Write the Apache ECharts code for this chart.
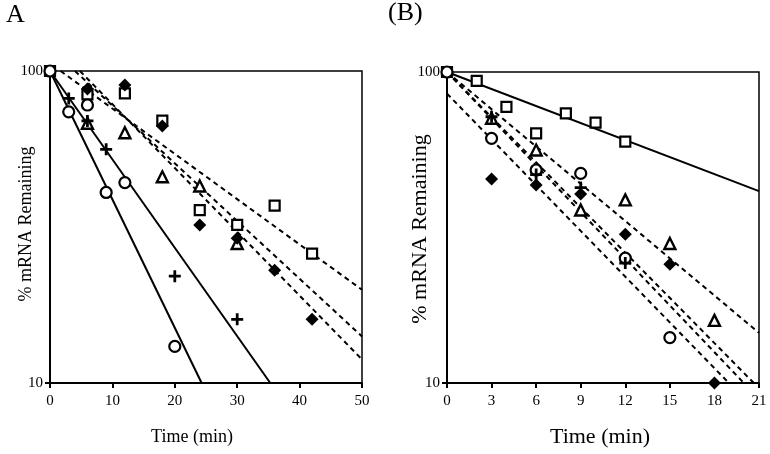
<!DOCTYPE html>
<html>
<head>
<meta charset="utf-8">
<script src="https://cdn.jsdelivr.net/npm/echarts@6/dist/echarts.min.js"></script>
<style>html,body{margin:0;padding:0;background:#fff}#c{width:770px;height:454px}</style>
</head>
<body>
<div id="c"></div>
<script>
// ---------- Panel A data ----------
var ticksAx = [0, 10, 20, 30, 40, 50];
var A_circle_t = [0, 3, 6, 9, 12, 20];
var A_circle_v = [100, 74.0, 77.8, 40.8, 43.9, 13.1];
var A_plus_t = [3, 6, 9, 20, 30];
var A_plus_v = [81.7, 69.2, 56.1, 22.0, 16.0];
var A_square_t = [0, 6, 12, 18, 24, 30, 36, 42];
var A_square_v = [100, 84.1, 84.8, 69.3, 35.8, 32.1, 37.0, 26.0];
var A_diamond_t = [6, 12, 18, 24, 30, 36, 42];
var A_diamond_v = [87.5, 90.2, 66.6, 32.1, 29.1, 23.0, 16.0];
var A_triangle_t = [6, 12, 18, 24, 30];
var A_triangle_v = [68.0, 63.4, 45.8, 42.8, 28.0];
// fitted lines (start / end points, data units)
var A_fit_circle = [[0, 100], [24.3, 10]];
var A_fit_plus = [[0, 100], [35.3, 10]];
var A_fit_square = [[1.7, 100], [50, 19.9]];
var A_fit_triangle = [[4.0, 100], [50, 14.1]];
var A_fit_diamond = [[4.8, 100], [50, 11.9]];

// ---------- Panel B data ----------
var ticksBx = [0, 3, 6, 9, 12, 15, 18, 21];
var B_square_t = [0, 2, 4, 6, 8, 10, 12];
var B_square_v = [100, 93.7, 77.3, 63.5, 73.6, 68.7, 59.7];
var B_triangle_t = [3, 6, 9, 12, 15, 18];
var B_triangle_v = [71.0, 56.1, 36.0, 38.8, 28.1, 15.9];
var B_circle_t = [0, 3, 6, 9, 12, 15];
var B_circle_v = [100, 61.2, 48.4, 47.2, 25.2, 14.0];
var B_diamond_t = [3, 6, 9, 12, 15, 18];
var B_diamond_v = [45.3, 43.3, 40.5, 30.1, 24.1, 10.0];
var B_plus_t = [3, 6, 9, 12];
var B_plus_v = [71.8, 46.8, 42.5, 24.3];
var B_fit_square = [[0, 100], [21, 41.4]];
var B_fit_diamond = [[0, 100], [21, 14.5]];
var B_fit_circle = [[0, 85.2], [18.97, 10]];
var B_fit_triangle = [[0, 100], [19.98, 10]];
var B_fit_plus = [[0, 100], [20.65, 10]];

function zip(t, v) { return t.map(function (x, i) { return [x, v[i]]; }); }

var PLUS = 'path://M4,0h2.4v10.4h-2.4z M0,4h10.4v2.4h-10.4z';
var serif = '"Liberation Serif", "DejaVu Serif", serif';

function sc(idx, data, kind) {
  var s = { type: 'scatter', xAxisIndex: idx, yAxisIndex: idx, data: data, z: 5, animation: false };
  if (kind === 'circle') { s.symbol = 'circle'; s.symbolSize = 11; s.itemStyle = { color: '#fff', borderColor: '#000', borderWidth: 2.2, opacity: 1 }; }
  if (kind === 'square') { s.symbol = 'rect'; s.symbolSize = 10; s.itemStyle = { color: '#fff', borderColor: '#000', borderWidth: 2.2, opacity: 1 }; }
  if (kind === 'triangle') { s.symbol = 'triangle'; s.symbolSize = 11; s.itemStyle = { color: '#fff', borderColor: '#000', borderWidth: 2.4, opacity: 1 }; }
  if (kind === 'diamond') { s.symbol = 'diamond'; s.symbolSize = 13; s.itemStyle = { color: '#000', opacity: 1 }; }
  if (kind === 'plus') { s.symbol = PLUS; s.symbolSize = 12; s.itemStyle = { color: '#000', opacity: 1 }; }
  return s;
}
function ln(idx, data, dashed) {
  return { type: 'line', xAxisIndex: idx, yAxisIndex: idx, data: data, showSymbol: false, symbol: 'none', z: 3, animation: false,
    lineStyle: { color: '#000', width: 2, type: dashed ? [5, 4] : 'solid' } };
}

function xAx(idx, ticks) {
  return { type: 'value', gridIndex: idx, min: ticks[0], max: ticks[ticks.length - 1], interval: ticks[1] - ticks[0],
    axisLine: { show: true, onZero: false, lineStyle: { color: '#000', width: 2 } },
    axisTick: { show: true, inside: false, length: 5, lineStyle: { color: '#000', width: 2 } },
    axisLabel: { color: '#000', fontFamily: serif, fontSize: 15, margin: 11 },
    splitLine: { show: false } };
}
function yAx(idx) {
  return { type: 'log', logBase: 10, gridIndex: idx, min: 10, max: 100,
    axisLine: { show: true, lineStyle: { color: '#000', width: 2 } },
    axisTick: { show: true, inside: false, length: 5, lineStyle: { color: '#000', width: 2 } },
    minorTick: { show: false },
    axisLabel: { color: '#000', fontFamily: serif, fontSize: 15, margin: 7 },
    splitLine: { show: false } };
}

var chart = echarts.init(document.getElementById('c'), null, { renderer: 'canvas' });
chart.setOption({
  backgroundColor: '#fff',
  animation: false,
  grid: [
    { left: 50, top: 71, width: 312, height: 312, show: true, borderColor: '#000', borderWidth: 1.5, backgroundColor: 'transparent' },
    { left: 447, top: 72, width: 312, height: 311, show: true, borderColor: '#000', borderWidth: 1.5, backgroundColor: 'transparent' }
  ],
  xAxis: [xAx(0, ticksAx), xAx(1, ticksBx)],
  yAxis: [yAx(0), yAx(1)],
  series: [
    ln(0, A_fit_circle, false), ln(0, A_fit_plus, false),
    ln(0, A_fit_square, true), ln(0, A_fit_triangle, true), ln(0, A_fit_diamond, true),
    sc(0, zip(A_square_t, A_square_v), 'square'),
    sc(0, zip(A_triangle_t, A_triangle_v), 'triangle'),
    sc(0, zip(A_circle_t, A_circle_v), 'circle'),
    sc(0, zip(A_diamond_t, A_diamond_v), 'diamond'),
    sc(0, zip(A_plus_t, A_plus_v), 'plus'),
    ln(1, B_fit_square, false),
    ln(1, B_fit_diamond, true), ln(1, B_fit_circle, true), ln(1, B_fit_triangle, true), ln(1, B_fit_plus, true),
    sc(1, zip(B_square_t, B_square_v), 'square'),
    sc(1, zip(B_triangle_t, B_triangle_v), 'triangle'),
    sc(1, zip(B_circle_t, B_circle_v), 'circle'),
    sc(1, zip(B_diamond_t, B_diamond_v), 'diamond'),
    sc(1, zip(B_plus_t, B_plus_v), 'plus')
  ],
  graphic: [
    { type: 'text', left: 6, top: 2, style: { text: 'A', font: '26px ' + serif, fill: '#000' } },
    { type: 'text', left: 388, top: 0, style: { text: '(B)', font: '26px ' + serif, fill: '#000' } },
    { type: 'text', x: 192, y: 437, style: { text: 'Time (min)', font: '18px ' + serif, fill: '#000', textAlign: 'center', textVerticalAlign: 'middle' } },
    { type: 'text', x: 600, y: 437, style: { text: 'Time (min)', font: '22px ' + serif, fill: '#000', textAlign: 'center', textVerticalAlign: 'middle' } },
    { type: 'text', x: 26, y: 224, rotation: Math.PI / 2, style: { text: '% mRNA Remaining', font: '18px ' + serif, fill: '#000', textAlign: 'center', textVerticalAlign: 'middle' } },
    { type: 'text', x: 420, y: 229, rotation: Math.PI / 2, style: { text: '% mRNA Remaining', font: '22px ' + serif, fill: '#000', textAlign: 'center', textVerticalAlign: 'middle' } }
  ]
});
</script>
</body>
</html>
